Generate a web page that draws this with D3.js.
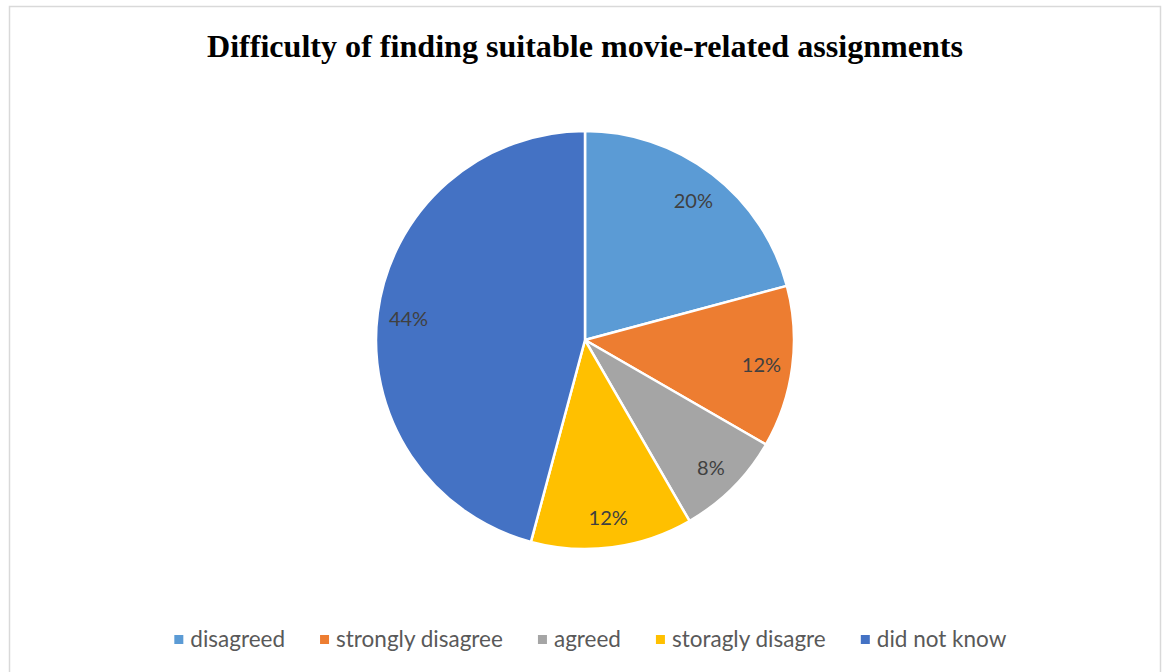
<!DOCTYPE html>
<html>
<head>
<meta charset="utf-8">
<script src="https://cdn.jsdelivr.net/npm/d3@7"></script>
<style>
  html, body { margin: 0; padding: 0; background: #fff; }
  svg { display: block; }
</style>
</head>
<body>
<svg id="chart" width="1163" height="672"></svg>
<script>
// Survey answers and their shares (percent)
const categories = ["disagreed", "strongly disagree", "agreed", "storagly disagre", "did not know"];
const values = [20, 12, 8, 12, 44];
const colors = ["#5B9BD5", "#ED7D31", "#A5A5A5", "#FFC000", "#4472C4"];
const title = "Difficulty of finding suitable movie-related assignments";

const W = 1163, H = 672;
const svg = d3.select("#chart");

// chart area frame
svg.append("rect")
  .attr("x", 9.5).attr("y", 6.5)
  .attr("width", 1151).attr("height", 680)
  .attr("fill", "#fff")
  .attr("stroke", "#d9d9d9")
  .attr("stroke-width", 1.5);

// title
svg.append("text")
  .attr("x", 585).attr("y", 57)
  .attr("text-anchor", "middle")
  .attr("font-family", "'Liberation Serif', 'Times New Roman', serif")
  .attr("font-weight", "bold")
  .attr("font-size", 32)
  .attr("fill", "#000")
  .attr("textLength", 756)
  .attr("lengthAdjust", "spacingAndGlyphs")
  .text(title);

const cx = 585, cy = 340, R = 209;
const color = d3.scaleOrdinal().domain(categories).range(colors);

const pie = d3.pie().value(d => d.value).sort(null);
const data = categories.map((c, i) => ({ cat: c, value: values[i] }));
const arcs = pie(data);

const arc = d3.arc().innerRadius(0).outerRadius(R);
const labelArc = d3.arc().innerRadius(178).outerRadius(178);

const g = svg.append("g").attr("transform", `translate(${cx},${cy})`);

g.selectAll("path.slice")
  .data(arcs)
  .join("path")
  .attr("class", "slice")
  .attr("d", arc)
  .attr("fill", d => color(d.data.cat))
  .attr("stroke", "#fff")
  .attr("stroke-width", 2.5)
  .attr("stroke-linejoin", "round");

g.selectAll("text.pct")
  .data(arcs)
  .join("text")
  .attr("class", "pct")
  .attr("transform", d => `translate(${labelArc.centroid(d)})`)
  .attr("text-anchor", "middle")
  .attr("dy", "0.45em")
  .attr("font-family", "Lato, 'Open Sans', sans-serif")
  .attr("font-size", 20)
  .attr("fill", "#404040")
  .text(d => d.data.value + "%");

// legend
const legend = svg.append("g").attr("transform", "translate(0,647)");
const lfont = "Lato, 'Open Sans', sans-serif";
const items = legend.selectAll("g.item")
  .data(categories)
  .join("g")
  .attr("class", "item");

items.append("rect")
  .attr("x", 0).attr("y", -12)
  .attr("width", 9).attr("height", 9)
  .attr("fill", d => color(d));

items.append("text")
  .attr("x", 16).attr("y", 0)
  .attr("font-family", lfont)
  .attr("font-size", 22.5)
  .attr("fill", "#595959")
  .text(d => d);

// lay items out in a centred row
const widths = [];
items.each(function() { widths.push(this.getBBox().width); });
const gap = 35;
const total = d3.sum(widths) + gap * (widths.length - 1);
let x0 = (W - total) / 2 + 9;
items.attr("transform", (d, i) => {
  const t = `translate(${x0},0)`;
  x0 += widths[i] + gap;
  return t;
});
</script>
</body>
</html>
